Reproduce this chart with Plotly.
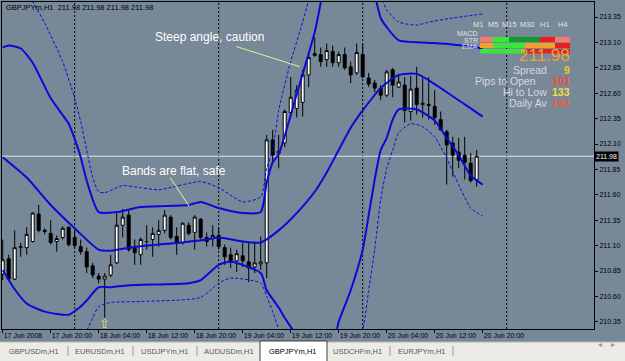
import plotly.graph_objects as go

# ---------------- data (H1 bars, index 0 = 17 Jun 2008 12:00) ----------------
bar_index = list(range(80))
opens = [210.82, 210.97, 210.77, 211.08, 211.08, 211.14, 211.41, 211.25, 211.22, 211.14,
         211.18, 211.28, 211.18, 211.09, 211.04, 210.90, 210.80, 210.77, 210.81, 210.93,
         211.30, 211.40, 211.08, 211.01, 211.14, 211.16, 211.21, 211.25, 211.38, 211.19,
         211.13, 211.30, 211.23, 211.36, 211.18, 211.17, 211.20, 211.08, 211.01, 210.95,
         211.00, 210.94, 210.89, 210.92, 210.93, 212.14, 212.01, 212.11, 212.41, 212.45,
         212.51, 212.78, 212.97, 212.98, 212.93, 213.01, 212.90, 212.98, 212.86, 212.80,
         212.98, 212.75, 212.70, 212.65, 212.58, 212.83, 212.66, 212.68, 212.42, 212.65,
         212.50, 212.49, 212.47, 212.34, 212.22, 212.11, 212.02, 211.99, 211.91, 211.75]
highs = [211.16, 211.01, 211.25, 211.13, 211.28, 211.43, 211.50, 211.27, 211.35, 211.20,
         211.29, 211.29, 211.27, 211.16, 211.08, 210.93, 210.83, 210.83, 211.01, 211.43,
         211.46, 211.45, 211.16, 211.18, 211.30, 211.28, 211.35, 211.45, 211.40, 211.28,
         211.33, 211.33, 211.40, 211.37, 211.23, 211.30, 211.28, 211.11, 211.08, 211.06,
         211.14, 211.14, 211.14, 211.19, 212.19, 212.24, 212.19, 212.44, 212.76, 212.68,
         212.83, 212.98, 213.15, 213.05, 213.09, 213.07, 213.01, 213.05, 212.91, 213.09,
         213.09, 212.80, 212.73, 212.68, 212.83, 212.85, 212.78, 212.76, 212.77, 212.86,
         212.75, 212.76, 212.63, 212.42, 212.24, 212.17, 212.16, 212.17, 212.01, 212.04]
lows = [210.76, 210.76, 210.76, 210.99, 211.01, 211.13, 211.23, 211.21, 211.11, 211.04,
        211.16, 211.09, 211.08, 211.01, 210.83, 210.78, 210.73, 210.39, 210.79, 210.92,
        211.18, 211.04, 210.91, 210.91, 211.06, 210.99, 211.09, 211.22, 211.16, 211.01,
        211.11, 211.20, 211.06, 211.16, 211.09, 211.09, 211.06, 210.91, 210.88, 210.84,
        210.89, 210.74, 210.83, 210.86, 210.78, 211.91, 211.86, 212.07, 212.36, 212.36,
        212.37, 212.66, 212.96, 212.86, 212.86, 212.86, 212.86, 212.83, 212.70, 212.78,
        212.75, 212.66, 212.61, 212.53, 212.56, 212.56, 212.65, 212.31, 212.33, 212.39,
        212.36, 212.34, 212.29, 212.23, 211.70, 211.78, 211.86, 211.75, 211.72, 211.68]
closes = [210.96, 210.77, 211.08, 211.09, 211.21, 211.42, 211.25, 211.24, 211.13, 211.17,
          211.27, 211.11, 211.10, 211.04, 210.89, 210.81, 210.77, 210.80, 210.91, 211.30,
          211.38, 211.06, 211.03, 211.16, 211.14, 211.22, 211.25, 211.40, 211.18, 211.13,
          211.32, 211.22, 211.38, 211.18, 211.14, 211.20, 211.09, 210.99, 210.94, 211.02,
          210.95, 210.88, 210.93, 210.94, 212.14, 211.99, 212.03, 212.42, 212.56, 212.63,
          212.78, 212.95, 212.99, 212.91, 213.02, 212.90, 212.98, 212.85, 212.78, 213.00,
          212.76, 212.69, 212.65, 212.58, 212.81, 212.68, 212.71, 212.43, 212.64, 212.49,
          212.49, 212.48, 212.36, 212.24, 212.09, 211.99, 211.94, 211.92, 211.74, 211.98]

# Bollinger bands (solid = 2 dev, dotted = 3 dev), read at bar indices
bb_mid_x = [0, 4, 8, 12, 16, 18, 20, 24, 28, 34, 36, 40, 43, 46, 49, 52, 54, 56, 58, 60, 63, 66, 69, 72, 75, 78, 80]
bb_mid = [211.97, 211.77, 211.50, 211.27, 211.06, 211.05, 211.07, 211.10, 211.12, 211.16, 211.18, 211.14, 211.13,
          211.25, 211.42, 211.63, 211.82, 212.04, 212.26, 212.43, 212.65, 212.78, 212.79, 212.69, 212.57, 212.45, 212.37]
bb_up_x = [0, 1, 3, 5, 8, 11, 12, 13, 14, 16, 19, 23, 31, 33, 36, 40, 43, 44, 45, 46, 49, 52, 55, 58, 60, 62, 63, 64, 66, 70, 75, 80]
bb_up = [213.05, 213.07, 213.04, 212.90, 212.55, 212.30, 212.15, 211.97, 211.74, 211.43, 211.43, 211.48, 211.50,
         211.53, 211.47, 211.42, 211.43, 211.72, 211.92, 212.00, 212.59, 213.20, 213.96, 214.06, 213.91, 213.57,
         213.34, 213.25, 213.12, 213.10, 213.08, 213.04]
bb_lo_x = [0, 2, 4, 7, 11, 13, 14, 16, 18, 21, 31, 33, 36, 38, 43, 44, 46, 47, 49, 52, 55, 56, 58, 60, 61, 62, 63,
           64, 65, 66, 69, 72, 74, 76, 78, 80]
bb_lo = [210.86, 210.67, 210.53, 210.45, 210.42, 210.50, 210.56, 210.69, 210.69, 210.71, 210.73, 210.76, 210.91,
         210.94, 210.83, 210.66, 210.49, 210.39, 210.22, 210.05, 210.12, 210.35, 210.66, 211.06, 211.40, 211.75,
         212.04, 212.16, 212.34, 212.44, 212.44, 212.33, 212.16, 211.99, 211.79, 211.70]
bb_up3_x = [0, 3, 5, 7, 10, 12, 13, 14, 15, 16, 17, 20, 23, 26, 33, 36, 40, 43, 44, 45, 46, 48, 50, 51, 53, 56, 60,
            62, 63, 64, 66, 69, 71, 75, 80]
bb_up3 = [213.60, 213.67, 213.50, 213.29, 212.91, 212.55, 212.32, 212.04, 211.77, 211.63, 211.62, 211.69, 211.67,
          211.65, 211.73, 211.67, 211.53, 211.58, 211.86, 212.04, 212.43, 212.91, 213.30, 213.52, 214.10, 214.70,
          214.60, 213.81, 213.57, 213.42, 213.30, 213.27, 213.30, 213.34, 213.38]
bb_lo3_x = [0, 4, 8, 12, 14, 15, 16, 18, 23, 33, 36, 38, 43, 44, 45, 46, 48, 55, 60, 61, 62, 63, 64, 65, 66, 68, 70,
            72, 74, 76, 78, 80]
bb_lo3 = [210.22, 209.97, 209.83, 209.95, 210.26, 210.39, 210.50, 210.54, 210.55, 210.59, 210.73, 210.78, 210.73,
          210.60, 210.45, 210.27, 209.78, 209.38, 210.27, 210.66, 211.06, 211.55, 211.86, 212.04, 212.21, 212.30,
          212.27, 212.17, 211.96, 211.70, 211.47, 211.39]

time_tick_idx = [0, 8, 16, 24, 32, 40, 48, 56, 64, 72, 80]
time_tick_labels = ["17 Jun 2008", "17 Jun 20:00", "18 Jun 04:00", "18 Jun 12:00", "18 Jun 20:00",
                    "19 Jun 04:00", "19 Jun 12:00", "19 Jun 20:00", "20 Jun 04:00", "20 Jun 12:00", "20 Jun 20:00"]
price_ticks = [210.35, 210.60, 210.85, 211.10, 211.35, 211.60, 211.85, 212.10, 212.35, 212.60, 212.85, 213.10, 213.35]
price_tick_labels = ["210.35", "210.60", "210.85", "211.10", "211.35", "211.60", "211.85", "212.10", "212.35",
                     "212.60", "212.85", "213.10", "213.35"]
day_separators = [12, 36, 60, 84]
bid_price = 211.98
header_text = "GBPJPYm,H1  211.98 211.98 211.98 211.98"

# chart notes (text objects and trend lines anchored at bar index / price)
note_texts = ["Steep angle, caution", "Bands are flat, safe"]
note_x = [25.05, 19.55]
note_y = [213.153, 211.834]
pointer_x = [[38.9, 49.55], [27.9, 31.05]]
pointer_y = [[213.06, 212.86], [211.77, 211.49]]
arrow_bar = 17
arrow_price = 210.33

# multi-timeframe panel
mtf_frames = ["M1", "M5", "M15", "M30", "H1", "H4"]
mtf_rows = ["MACD", "STR", "EMA"]
mtf_colors = [
    ["#f47c6c", "#3ae63a", "#13992f", "#13992f", "#ee1c1c", "#f47c6c"],
    ["#f5a02a", "#3ae63a", "#3ae63a", "#f5a02a", "#f5a02a", "#ee1c1c"],
    ["#3ae63a", "#3ae63a", "#3ae63a", "#ee1c1c", "#ee1c1c", "#ee1c1c"],
]
stat_labels = ["Spread", "Pips to Open", "Hi to Low", "Daily Av"]
stat_values = ["9", "-101", "133", "192"]
stat_colors = ["#f5c518", "#ff4a2a", "#f2e03c", "#f0603a"]
big_price = "211.98"

tabs = ["GBPUSDm,H1", "EURUSDm,H1", "USDJPYm,H1", "AUDUSDm,H1", "GBPJPYm,H1", "USDCHFm,H1", "EURJPYm,H1"]
active_tab = "GBPJPYm,H1"

# ---------------- geometry (pixels) ----------------
W, H = 625, 361
PL, PR, PT, PB = 2, 594, 2, 329
BAR_PX = 6.0
FIRST_BAR_PX = 2.7


def fx(px):
    return (px - PL) / (PR - PL)


def fy(py):
    return (PB - py) / (PB - PT)


x_range = [(PL - FIRST_BAR_PX) / BAR_PX, (PR - FIRST_BAR_PX) / BAR_PX]
y_range = [210.2791, 213.4976]

BG = "#778899"
BLUE = "#0a0ad8"
FONT = "Liberation Sans"

fig = go.Figure()

fig.add_trace(go.Candlestick(
    x=bar_index, open=opens, high=highs, low=lows, close=closes,
    increasing=dict(line=dict(color="black", width=1), fillcolor="white"),
    decreasing=dict(line=dict(color="black", width=1), fillcolor="black"),
    whiskerwidth=0, hoverinfo="skip", showlegend=False))

for xs, ys, dash, wdt in [(bb_up3_x, bb_up3, "3px,2px", 1), (bb_lo3_x, bb_lo3, "3px,2px", 1),
                          (bb_up_x, bb_up, "solid", 2), (bb_mid_x, bb_mid, "solid", 2),
                          (bb_lo_x, bb_lo, "solid", 2)]:
    fig.add_trace(go.Scatter(x=xs, y=ys, mode="lines",
                             line=dict(color=BLUE, width=wdt, dash=dash, shape="spline", smoothing=0.6),
                             hoverinfo="skip", showlegend=False))

for px_, py_ in zip(pointer_x, pointer_y):
    fig.add_trace(go.Scatter(x=px_, y=py_, mode="lines", line=dict(color="#e8ee8c", width=1),
                             hoverinfo="skip", showlegend=False))

shapes = []
for d in day_separators:
    shapes.append(dict(type="line", xref="x", yref="paper", x0=d, x1=d, y0=0, y1=1,
                       line=dict(color="black", width=1, dash="2px,2px"), layer="below"))
shapes.append(dict(type="line", xref="paper", yref="y", x0=0, x1=1, y0=bid_price, y1=bid_price,
                   line=dict(color="#e4e6ea", width=1), layer="below"))

# MTF panel cells
cell_edges = [480, 493, 509, 525, 540, 555, 570]
row_edges = [(37, 42), (43, 48), (49, 53.5)]
for r, (ya, yb) in enumerate(row_edges):
    for c in range(6):
        shapes.append(dict(type="rect", xref="paper", yref="paper",
                           x0=fx(cell_edges[c]), x1=fx(cell_edges[c + 1]), y0=fy(yb), y1=fy(ya),
                           fillcolor=mtf_colors[r][c], line=dict(width=0), layer="above"))

# tab strip
shapes.append(dict(type="rect", xref="paper", yref="paper", x0=fx(-2), x1=fx(627), y0=fy(363), y1=fy(342),
                   fillcolor="#ecebe5", line=dict(width=0)))
shapes.append(dict(type="line", xref="paper", yref="paper", x0=fx(-2), x1=fx(627), y0=fy(342), y1=fy(342),
                   line=dict(color="#b8b8b0", width=1)))
shapes.append(dict(type="rect", xref="paper", yref="paper", x0=fx(260), x1=fx(327), y0=fy(363), y1=fy(341),
                   fillcolor="white", line=dict(color="#3c3c3c", width=1)))
for sx in [68, 133, 197, 390, 453]:
    shapes.append(dict(type="line", xref="paper", yref="paper", x0=fx(sx), x1=fx(sx), y0=fy(346), y1=fy(356),
                       line=dict(color="#9a9a9a", width=1)))

ann = []
ann.append(dict(xref="paper", yref="paper", x=fx(4), y=fy(7.5), text=header_text, showarrow=False,
                xanchor="left", yanchor="middle", font=dict(family=FONT, size=7.5, color="black")))
for t, xv, yv in zip(note_texts, note_x, note_y):
    ann.append(dict(x=xv, y=yv, xref="x", yref="y", text=t, showarrow=False, xanchor="left", yanchor="middle",
                    font=dict(family=FONT, size=12, color="white")))
ann.append(dict(x=arrow_bar, y=arrow_price, xref="x", yref="y", text="⇧", showarrow=False,
                font=dict(family="DejaVu Sans", size=13, color="#dbe86a"), yanchor="middle"))
ann.append(dict(xref="paper", yref="y", x=1.0, y=bid_price, text=f"{bid_price:.2f}", showarrow=False,
                xanchor="left", yanchor="middle", bgcolor="black", borderpad=1,
                font=dict(family=FONT, size=7, color="white")))

frame_px = [478, 493, 509, 527, 545, 563]
for f, xp in zip(mtf_frames, frame_px):
    ann.append(dict(xref="paper", yref="paper", x=fx(xp), y=fy(25), text=f, showarrow=False,
                    xanchor="center", yanchor="middle", font=dict(family=FONT, size=7.5, color="#e2e2e2")))
for lbl, yp in zip(mtf_rows, [33, 40, 47]):
    ann.append(dict(xref="paper", yref="paper", x=fx(479), y=fy(yp), text=lbl, showarrow=False,
                    xanchor="right", yanchor="middle", borderpad=0,
                    font=dict(family=FONT, size=7, color="#e2e2e2")))
ann.append(dict(xref="paper", yref="paper", x=fx(571), y=fy(55), text=big_price, showarrow=False,
                xanchor="right", yanchor="middle", borderpad=0,
                font=dict(family=FONT, size=17, color="#f0a232")))
label_right = [548, 537, 548, 548]
for lbl, val, col, yp, lr in zip(stat_labels, stat_values, stat_colors, [70, 81, 92, 103], label_right):
    ann.append(dict(xref="paper", yref="paper", x=fx(lr), y=fy(yp), text=lbl, showarrow=False,
                    xanchor="right", yanchor="middle", borderpad=0,
                    font=dict(family=FONT, size=10.5, color="#d6d9de")))
    ann.append(dict(xref="paper", yref="paper", x=fx(571), y=fy(yp), text=f"<b>{val}</b>", showarrow=False,
                    xanchor="right", yanchor="middle", borderpad=0,
                    font=dict(family=FONT, size=10.5, color=col)))

tab_centers = [34, 100, 164.5, 229.5, 293, 357.5, 421.5]
for t, cx in zip(tabs, tab_centers):
    ann.append(dict(xref="paper", yref="paper", x=fx(cx), y=fy(351), text=t, showarrow=False,
                    xanchor="center", yanchor="middle",
                    font=dict(family=FONT, size=7.5, color="black" if t == active_tab else "#5a5a5a")))
for sym, cx in [("◂", 604), ("▸", 617)]:
    ann.append(dict(xref="paper", yref="paper", x=fx(cx), y=fy(351), text=sym, showarrow=False,
                    font=dict(family="DejaVu Sans", size=8, color="#9a9a9a")))

fig.update_layout(
    width=W, height=H, margin=dict(l=PL, r=W - PR, t=PT, b=H - PB),
    paper_bgcolor=BG, plot_bgcolor=BG, showlegend=False, shapes=shapes, annotations=ann,
    xaxis=dict(range=x_range, tickmode="array", tickvals=time_tick_idx, ticktext=time_tick_labels,
               tickangle=0, ticks="outside", ticklen=3, tickcolor="black", ticklabelposition="outside right",
               tickfont=dict(family=FONT, size=7, color="black"), showgrid=False, zeroline=False,
               showline=True, linecolor="black", linewidth=1, mirror=True,
               rangeslider=dict(visible=False), fixedrange=True),
    yaxis=dict(range=y_range, side="right", tickmode="array", tickvals=price_ticks, ticktext=price_tick_labels,
               ticks="outside", ticklen=3, tickcolor="black",
               tickfont=dict(family=FONT, size=7, color="black"), showgrid=False, zeroline=False,
               showline=True, linecolor="black", linewidth=1, mirror=True, fixedrange=True),
)

fig.write_html("out.html", config={"displayModeBar": False})
